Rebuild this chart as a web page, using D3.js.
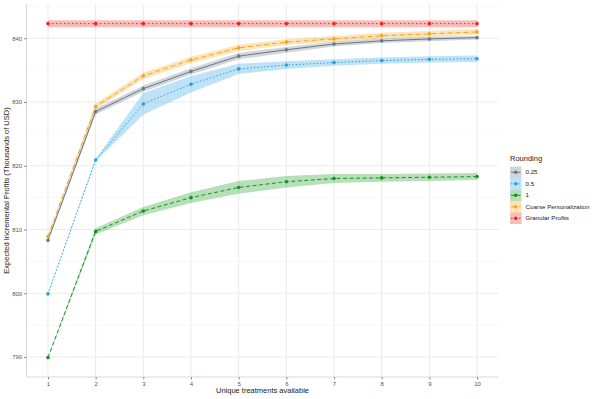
<!DOCTYPE html>
<html>
<head>
<meta charset="utf-8">
<script src="https://cdn.jsdelivr.net/npm/d3@7"></script>
<style>
  body { margin: 0; background: #fff; }
  svg { font-family: "Liberation Sans", Arial, sans-serif; }
</style>
</head>
<body>
<svg id="chart" width="598" height="399"></svg>
<script>
const treatments = [1, 2, 3, 4, 5, 6, 7, 8, 9, 10]
const yTicks = [790, 800, 810, 820, 830, 840]
const yMinor = [795, 805, 815, 825, 835, 845]

const seriesNames = ['0.25', '0.5', '1', 'Coarse Personalization', 'Granular Profits']
const seriesColors = ['#6a7886', '#27a2e2', '#12961b', '#f4a51c', '#e8261f']
const seriesDash = ['none', '1.5,2', '4,2.5', '5,3', '1.5,2.5']

// expected profits, thousands of USD
const roundQuarter = [808.3, 828.5, 832.1, 834.8, 837.2, 838.2, 839.1, 839.6, 839.9, 840.1]
const roundHalf = [799.9, 820.9, 829.7, 832.8, 835.2, 835.8, 836.2, 836.5, 836.7, 836.8]
const roundOne = [789.9, 809.7, 812.9, 815.0, 816.6, 817.5, 818.0, 818.1, 818.2, 818.3]
const coarse = [808.9, 829.3, 834.1, 836.6, 838.5, 839.4, 839.9, 840.4, 840.7, 841.0]
const granular = [842.3, 842.3, 842.3, 842.3, 842.3, 842.3, 842.3, 842.3, 842.3, 842.3]

// half-width of the shaded band
const bandQuarter = [0.2, 0.45, 0.5, 0.5, 0.5, 0.45, 0.4, 0.35, 0.35, 0.3]
const bandHalf = [0.1, 0.2, 1.7, 1.3, 0.8, 0.6, 0.5, 0.5, 0.5, 0.5]
const bandOne = [0.1, 0.5, 0.65, 0.85, 1.0, 0.9, 0.7, 0.6, 0.6, 0.55]
const bandCoarse = [0.2, 0.45, 0.5, 0.5, 0.5, 0.45, 0.45, 0.45, 0.45, 0.45]
const bandGranular = [0.55, 0.55, 0.55, 0.55, 0.55, 0.55, 0.55, 0.55, 0.55, 0.55]

const values = [roundQuarter, roundHalf, roundOne, coarse, granular]
const bands = [bandQuarter, bandHalf, bandOne, bandCoarse, bandGranular]

const svg = d3.select('#chart')
const panel = { left: 26.5, right: 498.5, top: 4, bottom: 377 }

const x = d3.scaleLinear()
    .domain([0.55, 10.45])
    .range([panel.left, panel.right])

const y = d3.scaleLinear()
    .domain([786.86, 845.38])
    .range([panel.bottom, panel.top])

// grid
const grid = svg.append('g')
grid.selectAll('.minor')
    .data(yMinor.filter(v => v < y.domain()[1]))
    .enter().append('line')
    .attr('x1', panel.left).attr('x2', panel.right)
    .attr('y1', d => y(d)).attr('y2', d => y(d))
    .attr('stroke', '#f2f2f2').attr('stroke-width', 0.55)
grid.selectAll('.major-y')
    .data(yTicks)
    .enter().append('line')
    .attr('x1', panel.left).attr('x2', panel.right)
    .attr('y1', d => y(d)).attr('y2', d => y(d))
    .attr('stroke', '#ebebeb').attr('stroke-width', 1.07)
grid.selectAll('.major-x')
    .data(treatments)
    .enter().append('line')
    .attr('y1', panel.top).attr('y2', panel.bottom)
    .attr('x1', d => x(d)).attr('x2', d => x(d))
    .attr('stroke', '#ebebeb').attr('stroke-width', 1.07)

// axes
const xAxis = svg.append('g')
    .attr('transform', `translate(0,${panel.bottom})`)
    .call(d3.axisBottom(x).tickValues(treatments).tickSize(2.5).tickPadding(2))
const yAxis = svg.append('g')
    .attr('transform', `translate(${panel.left},0)`)
    .call(d3.axisLeft(y).tickValues(yTicks).tickSize(2.5).tickPadding(1.8))
for (const ax of [xAxis, yAxis]) {
    ax.select('.domain').attr('stroke', '#d9d9d9').attr('stroke-width', 1.1)
    ax.selectAll('.tick line').attr('stroke', '#888')
    ax.selectAll('.tick text')
        .attr('fill', '#555')
        .style('font-size', '6px')
}
yAxis.select('.domain').attr('d', `M0,${panel.top}V${panel.bottom}`)
xAxis.select('.domain').attr('d', `M${panel.left},0H${panel.right}`)

// axis titles
svg.append('text')
    .attr('x', 216)
    .attr('y', 393)
    .style('font-size', '7.5px')
    .attr('fill', '#222')
    .text('Unique treatments available')

svg.append('text')
    .attr('transform', `translate(8.7,${(panel.top + panel.bottom) / 2}) rotate(-90)`)
    .attr('text-anchor', 'middle')
    .style('font-size', '7.5px')
    .attr('fill', '#222')
    .text('Expected Incremental Profits (Thousands of USD)')

// bands
const area = d3.area()
    .x((d, i) => x(treatments[i]))
    .y0((d, i) => y(d.v - d.b))
    .y1((d, i) => y(d.v + d.b))

const plot = svg.append('g')
values.forEach((vals, s) => {
    const rows = vals.map((v, i) => ({ v, b: bands[s][i] }))
    plot.append('path')
        .attr('d', area(rows))
        .attr('fill', seriesColors[s])
        .attr('fill-opacity', 0.3)
})

const line = d3.line()
    .x((d, i) => x(treatments[i]))
    .y(d => y(d))

values.forEach((vals, s) => {
    plot.append('path')
        .attr('d', line(vals))
        .attr('fill', 'none')
        .attr('stroke', seriesColors[s])
        .attr('stroke-width', 1)
        .attr('stroke-dasharray', seriesDash[s])
    plot.selectAll(null)
        .data(vals)
        .enter().append('circle')
        .attr('cx', (d, i) => x(treatments[i]))
        .attr('cy', d => y(d))
        .attr('r', 1.8)
        .attr('fill', seriesColors[s])
})

// legend
const legend = svg.append('g').attr('transform', 'translate(510,0)')
legend.append('text')
    .attr('x', 0).attr('y', 161)
    .style('font-size', '7.5px')
    .attr('fill', '#222')
    .text('Rounding')

const keySize = 11.5
const keyTop = 166.5
seriesNames.forEach((name, s) => {
    const ky = keyTop + s * keySize
    const k = legend.append('g').attr('transform', `translate(0,${ky})`)
    k.append('rect')
        .attr('width', keySize).attr('height', keySize)
        .attr('fill', seriesColors[s]).attr('fill-opacity', 0.3)
    k.append('line')
        .attr('x1', 1).attr('x2', keySize - 1)
        .attr('y1', keySize / 2).attr('y2', keySize / 2)
        .attr('stroke', seriesColors[s])
        .attr('stroke-width', 1)
        .attr('stroke-dasharray', seriesDash[s])
    k.append('circle')
        .attr('cx', keySize / 2).attr('cy', keySize / 2)
        .attr('r', 1.8)
        .attr('fill', seriesColors[s])
    k.append('text')
        .attr('x', keySize + 4)
        .attr('y', keySize / 2 + 2.2)
        .style('font-size', '6.2px')
        .attr('fill', '#222')
        .text(name)
})
</script>
</body>
</html>
